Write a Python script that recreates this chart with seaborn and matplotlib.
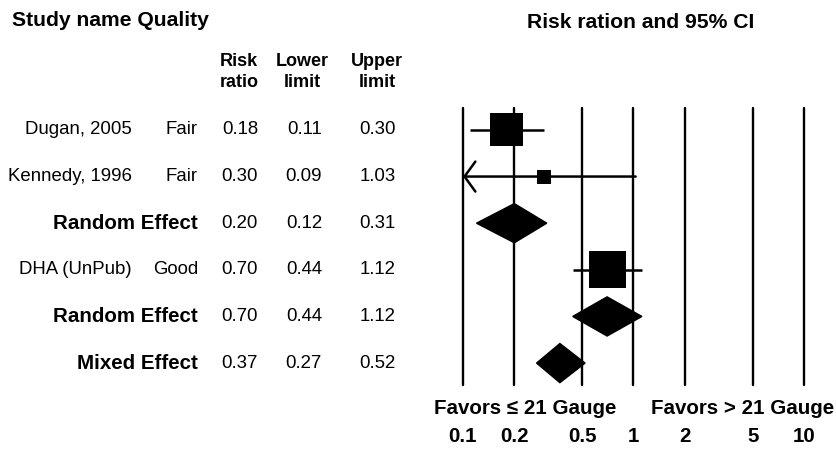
import matplotlib
matplotlib.use("Agg")
import numpy as np
import pandas as pd
import matplotlib.pyplot as plt
import matplotlib.transforms as mtransforms
from matplotlib.patches import Polygon
import seaborn as sns

# ── Data ────────────────────────────────────────────────────
studies    = ["Dugan, 2005", "Kennedy, 1996", "Random Effect",
              "DHA (UnPub)", "Random Effect", "Mixed Effect"]
quality    = ["Fair", "Fair", "", "Good", "", ""]
risk_ratio = [0.18, 0.30, 0.20, 0.70, 0.70, 0.37]
lower      = [0.11, 0.09, 0.12, 0.44, 0.44, 0.27]
upper      = [0.30, 1.03, 0.31, 1.12, 1.12, 0.52]
is_summary = [False, False, True, False, True, True]
ticks       = [0.1, 0.2, 0.5, 1, 2, 5, 10]
tick_labels = ["0.1", "0.2", "0.5", "1", "2", "5", "10"]

# ── Style ───────────────────────────────────────────────────
W, H, DPI = 837, 453, 100
FS_REG  = 13.4
FS_BOLD = 14.8
SQUARE_PX = {0: 33, 1: 14, 3: 37}   # square side per study row (px)
DIAMOND_HALF = 0.42                 # diamond half height (row units)

sns.set_theme(style="white")
plt.rcParams["font.family"] = ["Liberation Sans", "DejaVu Sans"]
plt.rcParams["text.color"] = "black"
plt.rcParams["xtick.color"] = "black"
plt.rcParams["xtick.labelcolor"] = "black"

fig = plt.figure(figsize=(W / DPI, H / DPI), dpi=DPI)


def fx(px):
    return px / W


def fy(py):
    return 1 - py / H


# forest axes: x 463..804 px, y 108..385 px
ax = fig.add_axes([fx(463), fy(385), fx(804 - 463), (385 - 108) / H])
ax.set_xscale("log")
ax.set_xlim(0.1, 10)
ax.set_ylim(5.47, -0.47)
for s in ax.spines.values():
    s.set_visible(False)
ax.set_yticks([])
ax.set_xticks(ticks, tick_labels)
ax.minorticks_off()
ax.tick_params(axis="x", length=0, pad=30, labelsize=FS_BOLD, labelcolor="black")
for lab in ax.get_xticklabels():
    lab.set_fontweight("bold")

for t in ticks:
    ax.axvline(t, color="black", lw=1.7, zorder=1, clip_on=False)

rows = np.arange(len(studies))
df = pd.DataFrame({"study": studies, "quality": quality, "rr": risk_ratio,
                   "lo": lower, "hi": upper, "summary": is_summary,
                   "row": rows})

# study CIs + squares
st = df[~df["summary"]].copy()
for _, r in st.iterrows():
    if r["lo"] < 0.1:
        ax.annotate("", xy=(0.1, r["row"]), xytext=(r["hi"], r["row"]),
                    arrowprops=dict(arrowstyle="->,head_length=0.65,head_width=0.9",
                                    lw=1.8, color="black", shrinkA=0, shrinkB=0),
                    zorder=2, annotation_clip=False)
    else:
        ax.hlines(r["row"], r["lo"], r["hi"], color="black", lw=1.8, zorder=2)
st["s"] = [(SQUARE_PX[i] * 72 / DPI) ** 2 for i in st["row"]]
sns.scatterplot(data=st, x="rr", y="row", marker="s", color="black",
                s=st["s"].tolist(), linewidth=0, zorder=3, ax=ax, legend=False)
ax.set_xlabel("")
ax.set_ylabel("")

# summary diamonds
for _, r in df[df["summary"]].iterrows():
    y = r["row"]
    verts = [(r["lo"], y), (r["rr"], y - DIAMOND_HALF),
             (r["hi"], y), (r["rr"], y + DIAMOND_HALF)]
    ax.add_patch(Polygon(verts, closed=True, facecolor="black",
                         edgecolor="black", lw=1, zorder=3))

# ── Table text ──────────────────────────────────────────────
tr = mtransforms.blended_transform_factory(fig.transFigure, ax.transData)
for _, r in df.iterrows():
    y = r["row"]
    if r["summary"]:
        fig.text(fx(198), y, r["study"], transform=tr, ha="right", va="center",
                 fontsize=FS_BOLD, fontweight="bold")
    else:
        fig.text(fx(132), y, r["study"], transform=tr, ha="right", va="center",
                 fontsize=FS_REG)
        fig.text(fx(198), y, r["quality"], transform=tr, ha="right", va="center",
                 fontsize=FS_REG)
    for xp, v in zip([258, 322, 396], [r["rr"], r["lo"], r["hi"]]):
        fig.text(fx(xp), y, f"{v:.2f}", transform=tr, ha="right", va="center",
                 fontsize=FS_REG)

# headers
fig.text(fx(12), fy(21), "Study name Quality", ha="left", va="center",
         fontsize=15.2, fontweight="bold")
fig.text(fx(641), fy(23), "Risk ration and 95% CI", ha="center", va="center",
         fontsize=15.2, fontweight="bold")
for xp, lab in zip([239, 302, 377], ["Risk\nratio", "Lower\nlimit", "Upper\nlimit"]):
    fig.text(fx(xp), fy(72), lab, ha="center", va="center", fontsize=13,
             fontweight="bold", linespacing=1.3)

fig.text(fx(525), fy(409), "Favors \u2264 21 Gauge", ha="center", va="center",
         fontsize=FS_BOLD, fontweight="bold")
fig.text(fx(743), fy(409), "Favors > 21 Gauge", ha="center", va="center",
         fontsize=FS_BOLD, fontweight="bold")

fig.savefig("out.png", dpi=DPI)
